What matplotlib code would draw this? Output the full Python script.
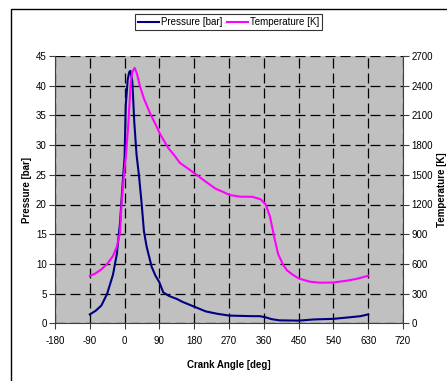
import matplotlib.pyplot as plt
from matplotlib.lines import Line2D
from matplotlib.patches import Rectangle

plt.rcParams['font.family'] = ['Liberation Sans', 'DejaVu Sans']
plt.rcParams['axes.unicode_minus'] = False

# crank angle [deg] / cylinder pressure [bar]
p_angle = [-90, -75, -60, -45, -30, -20, -12, -5, 0, 3, 8, 12, 15, 18, 20, 25, 31,
           37, 44, 50, 57, 70, 80, 90, 100, 115, 135, 150, 180, 210, 240, 270,
           300, 330, 350, 365, 380, 400, 450, 490, 540, 580, 610, 630]
pressure = [1.5, 2.1, 3.0, 5.0, 8.2, 11.7, 16.8, 23.6, 28.0, 36.7, 41.0, 42.3,
            42.5, 41.5, 40.7, 33.9, 28.3, 25.0, 20.2, 15.5, 12.9, 9.5, 8.0, 6.9,
            5.2, 4.6, 4.1, 3.6, 2.8, 2.0, 1.6, 1.3, 1.25, 1.2, 1.2, 1.0, 0.7,
            0.5, 0.45, 0.65, 0.75, 1.0, 1.2, 1.5]

# crank angle [deg] / gas temperature [K]
t_angle = [-90, -75, -60, -45, -30, -20, -12, -8, -3, 0, 4, 10, 16, 20, 26, 32,
           40, 50, 66, 80, 92, 113, 130, 143, 165, 186, 210, 235, 250, 272, 298,
           330, 352, 365, 376, 387, 397, 410, 420, 435, 450, 479, 505, 540, 574,
           599, 630]
temperature = [478, 505, 545, 600, 680, 775, 910, 1200, 1450, 1560, 1720, 2040,
               2440, 2540, 2580, 2520, 2390, 2270, 2120, 2010, 1910, 1770, 1690,
               1620, 1560, 1500, 1430, 1360, 1335, 1296, 1279, 1278, 1253, 1200,
               1077, 870, 700, 590, 535, 490, 454, 420, 410, 412, 430, 448, 480]

x_ticks = list(range(-180, 721, 90))
p_ticks = list(range(0, 46, 5))
t_ticks = list(range(0, 2701, 300))

fig = plt.figure(figsize=(4.47, 3.81), dpi=100)
fig.patch.set_facecolor('white')

# chart border
fig.add_artist(Rectangle((11 / 447, -0.1), 1.2, 1 - 9 / 381 + 0.1,
                         transform=fig.transFigure, fill=False,
                         edgecolor='black', linewidth=1.0))

ax = fig.add_axes([55 / 447, 1 - 323.3 / 381, 348 / 447, 267.3 / 381])
ax.set_facecolor('#C0C0C0')
ax2 = ax.twinx()

ax.plot(p_angle, pressure, color='#000080', linewidth=1.5, zorder=3)
ax2.plot(t_angle, temperature, color='#FF00FF', linewidth=1.5, zorder=3)

ax.set_xlim(-180, 720)
ax.set_ylim(0, 45)
ax2.set_ylim(0, 2700)
ax.set_xticks(x_ticks)
ax.set_yticks(p_ticks)
ax2.set_yticks(t_ticks)

ax.grid(True, color='black', linestyle=(0, (8, 4)), linewidth=0.9)
ax.set_axisbelow(True)

for a in (ax, ax2):
    a.tick_params(labelsize=7, length=4, width=0.8, color='#404040', pad=2)
    for s in a.spines.values():
        s.set_visible(False)
ax.tick_params(axis='x', pad=5)
ax.spines['left'].set_visible(True)
ax.spines['bottom'].set_visible(True)
ax2.spines['right'].set_visible(True)
for s in (ax.spines['left'], ax.spines['bottom'], ax2.spines['right']):
    s.set_color('#404040')
    s.set_linewidth(0.8)

ax.set_xlabel('Crank Angle [deg]', fontsize=7, fontweight='bold', labelpad=10)
ax.set_ylabel('Pressure [bar]', fontsize=7, fontweight='bold', labelpad=3)
ax2.set_ylabel('Temperature [K]', fontsize=7, fontweight='bold', labelpad=3)

handles = [Line2D([], [], color='#000080', linewidth=1.5),
           Line2D([], [], color='#FF00FF', linewidth=1.5)]
leg = fig.legend(handles, ['Pressure [bar]', 'Temperature [K]'],
                 loc='center', bbox_to_anchor=(228.5 / 447, 1 - 22 / 381),
                 ncol=2, fontsize=7, frameon=True, fancybox=False,
                 handlelength=2.2, handletextpad=0.2, columnspacing=0.4,
                 borderpad=0.35)
leg.get_frame().set_edgecolor('black')
leg.get_frame().set_linewidth(0.8)

fig.savefig('out.png', dpi=100)
